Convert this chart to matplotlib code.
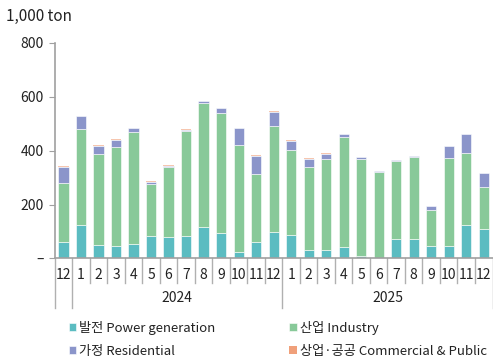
import numpy as np
import matplotlib.pyplot as plt

plt.rcParams['font.family'] = ['Noto Sans CJK KR', 'DejaVu Sans']

# monthly consumption, 1,000 ton (2023-12 .. 2025-12)
months = ['12', '1', '2', '3', '4', '5', '6', '7', '8', '9', '10', '11', '12',
          '1', '2', '3', '4', '5', '6', '7', '8', '9', '10', '11', '12']
years = ['2024', '2025']
power = [62, 124, 50, 47, 54, 84, 80, 83, 118, 95, 25, 62, 100,
         87, 32, 32, 42, 10, 0, 71, 71, 47, 47, 126, 110]
industry = [217, 357, 337, 367, 416, 194, 259, 391, 460, 444, 395, 252, 391,
            315, 307, 337, 409, 359, 320, 292, 306, 132, 326, 266, 155]
residential = [62, 47, 32, 27, 14, 7, 6, 3, 7, 19, 64, 67, 53,
               35, 32, 20, 10, 7, 4, 3, 4, 14, 45, 69, 51]
commercial = [2, 2, 2, 2, 2, 2, 1, 2, 1, 1, 1, 2, 2,
              2, 2, 2, 2, 1, 1, 1, 1, 2, 1, 1, 2]

c_power = '#5bbcc1'
c_ind = '#88c999'
c_res = '#8b95ca'
c_com = '#f0a07a'

fig = plt.figure(figsize=(4.93, 3.64), dpi=100)
ax = fig.add_axes([0.111, 0.290, 0.888, 0.592])

x = np.arange(len(months))
power = np.array(power)
industry = np.array(industry)
residential = np.array(residential)
commercial = np.array(commercial)
w = 0.58
kw = dict(width=w, edgecolor='white', linewidth=0.4)
b1 = ax.bar(x, power, color=c_power, **kw)
b2 = ax.bar(x, industry, bottom=power, color=c_ind, **kw)
b3 = ax.bar(x, residential, bottom=power + industry, color=c_res, **kw)
b4 = ax.bar(x, commercial, bottom=power + industry + residential, color=c_com,
            width=w, linewidth=0, alpha=0.6)

ax.set_xlim(-0.5, len(months) - 0.5)
ax.set_ylim(0, 800)
ax.set_yticks([0, 200, 400, 600, 800])
ax.set_yticklabels(['–', '200', '400', '600', '800'])
ax.tick_params(axis='y', labelsize=10, length=4, color='#a0a0a0', pad=4,
               labelcolor='#222222')
ax.set_xticks([])
for s in ['top', 'right']:
    ax.spines[s].set_visible(False)
ax.spines['left'].set_color('#a0a0a0')
ax.spines['bottom'].set_color('#a0a0a0')
ax.spines['left'].set_linewidth(1.2)
ax.spines['bottom'].set_linewidth(1.2)

fig.text(0.012, 0.955, '1,000 ton', fontsize=11, color='#222222', va='center')

# two-level category axis
tr = ax.get_xaxis_transform()
short = -0.116
long_ = -0.228
for i in range(len(months) + 1):
    xb = i - 0.5
    y1 = long_ if i in (0, 1, 13, len(months)) else short
    ax.plot([xb, xb], [0, y1], transform=tr, color='#b0b0b0', lw=1.0,
            clip_on=False)
for i, m in enumerate(months):
    ax.text(i, -0.075, m, transform=tr, ha='center', va='center',
            fontsize=10, color='#222222')
ax.text(6.5, -0.185, years[0], transform=tr, ha='center', va='center',
        fontsize=10, color='#222222')
ax.text(18.5, -0.185, years[1], transform=tr, ha='center', va='center',
        fontsize=10, color='#222222')

handles = [b1, b3, b2, b4]
labels = ['발전 Power generation', '가정 Residential',
          '산업 Industry', '상업·공공 Commercial & Public']
leg = fig.legend(handles, labels, ncol=2, loc='lower left',
                 bbox_to_anchor=(0.115, -0.015), frameon=False, fontsize=9.5,
                 handlelength=0.6, handleheight=0.6, handletextpad=0.2,
                 columnspacing=5.6, labelspacing=0.75, labelcolor='#222222')
for h in leg.legend_handles:
    h.set_alpha(1)

plt.savefig('out.png', dpi=100)
